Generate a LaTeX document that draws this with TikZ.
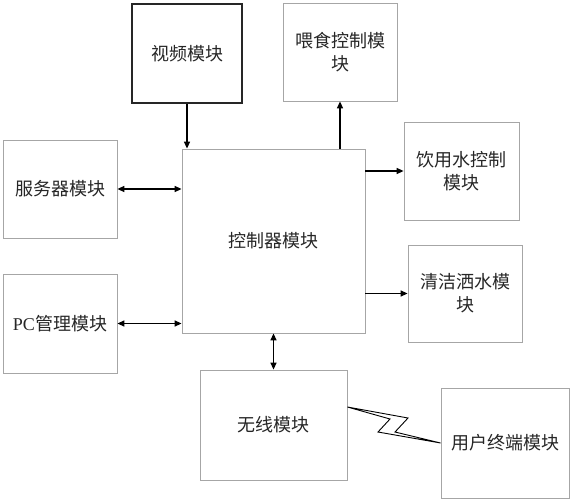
\documentclass[tikz,border=0pt]{standalone}
\usepackage{fontspec}
\setmainfont{Liberation Serif}
\newfontfamily\cjk{Noto Sans CJK SC}
\usetikzlibrary{arrows.meta}
\tikzset{
  module/.style  = {shape=rectangle, draw=black!35, line width=0.8pt,
                    align=center, text=black!85,
                    font=\cjk\fontsize{18}{23}\selectfont, inner sep=0pt},
  video/.style   = {module, draw=black!85, line width=1.2pt},
  link/.style    = {draw, line width=1.3pt, -{Triangle[length=7pt,width=6pt]}},
  duplex/.style  = {link, {Triangle[length=7pt,width=6pt]}-{Triangle[length=7pt,width=6pt]}}
}

\begin{document}
\begin{tikzpicture}[x=1pt, y=-1pt]
    \useasboundingbox (0,0) rectangle (572,500);

    \node [video]  (video)    at (187,53.5)  [minimum width=110pt, minimum height=99pt] {视频模块};
    \node [module] (feed)     at (340,52)    [minimum width=114pt, minimum height=98pt] {喂食控制模\\块};
    \node [module] (server)   at (60,189)    [minimum width=114pt, minimum height=98pt] {服务器模块};
    \node [module] (ctrl)     at (273.5,241) [minimum width=183pt, minimum height=184pt] {控制器模块};
    \node [module] (drink)    at (461.5,171) [minimum width=115pt, minimum height=98pt] {饮用水控制\\模块};
    \node [module] (clean)    at (465,293.5) [minimum width=114pt, minimum height=97pt] {清洁洒水模\\块};
    \node [module] (pc)       at (60,323.5)  [minimum width=114pt, minimum height=99pt] {{\rmfamily PC}管理模块};
    \node [module] (wireless) at (273.5,425) [minimum width=147pt, minimum height=110pt] {无线模块};
    \node [module] (user)     at (505,443)   [minimum width=128pt, minimum height=110pt] {用户终端模块};

    % connections to the controller
    \draw [link]   (video.south) -- (video.south |- ctrl.north);
    \draw [link]   (ctrl.north -| feed.south) -- (feed.south);
    \draw [link]   (ctrl.east |- drink.west) -- (drink.west);
    \draw [link]   (ctrl.east |- clean.west) -- (clean.west);
    \draw [duplex] (server.east) -- (server.east -| ctrl.west);
    \draw [duplex] (pc.east) -- (pc.east -| ctrl.west);
    \draw [duplex] (ctrl.south -| wireless.north) -- (wireless.north);

    % wireless link
    \coordinate (bolt-a) at ([yshift=18pt]wireless.east);
    \coordinate (bolt-b) at (user.west);
    \draw [line width=0.9pt, line join=miter] (bolt-a) -- (408,418) -- (395,432) -- (bolt-b)
        -- (378,432) -- (390,419) -- cycle;

\end{tikzpicture}
\end{document}
